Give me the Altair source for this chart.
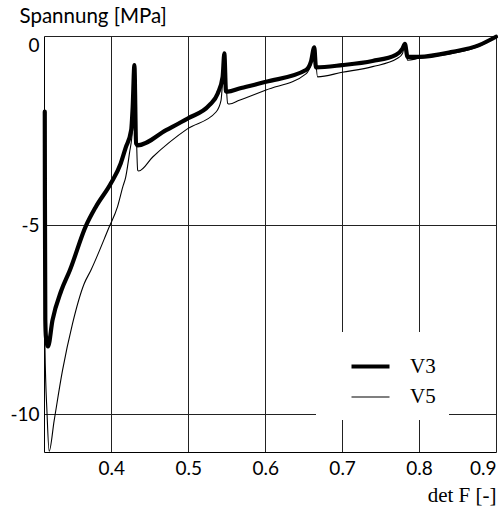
import altair as alt
import pandas as pd

# V3 (thick)
v3_x = [0.3135, 0.3137, 0.3142, 0.3150, 0.3177, 0.3235, 0.3350, 0.3460, 0.3670, 0.3798,
        0.3993, 0.4122, 0.4187, 0.4258, 0.4278, 0.4300, 0.4322, 0.4343, 0.4712, 0.4993,
        0.5274, 0.5383, 0.5447, 0.5469, 0.5491, 0.5512, 0.5664, 0.6011, 0.6530, 0.6595,
        0.6638, 0.6660, 0.7000, 0.7395, 0.7699, 0.7785, 0.7816, 0.7850, 0.8000, 0.8434,
        0.8781, 0.9000]
v3_y = [-2.00, -4.30, -7.50, -7.95, -8.21, -7.52, -6.73, -6.20, -5.02, -4.52,
        -3.90, -3.37, -2.95, -2.49, -1.87, -0.77, -2.84, -2.89, -2.49, -2.18,
        -1.83, -1.52, -1.08, -0.46, -1.47, -1.47, -1.39, -1.21, -0.90, -0.68,
        -0.30, -0.83, -0.77, -0.66, -0.50, -0.33, -0.21, -0.55, -0.55, -0.42,
        -0.24, -0.02]

# V5 (thin)
v5_x = [0.3135, 0.3137, 0.3165, 0.3192, 0.3257, 0.3365, 0.3495, 0.3647, 0.3733, 0.3972,
        0.4080, 0.4149, 0.4187, 0.4235, 0.4278, 0.4300, 0.4343, 0.4356, 0.4538, 0.4993,
        0.5361, 0.5426, 0.5447, 0.5469, 0.5512, 0.5534, 0.5664, 0.6011, 0.6530, 0.6595,
        0.6638, 0.6681, 0.7000, 0.7395, 0.7720, 0.7785, 0.7816, 0.7850, 0.8000, 0.8434,
        0.8781, 0.9000]
v5_y = [-2.00, -8.20, -10.00, -10.98, -10.17, -8.85, -7.61, -6.55, -6.20, -5.05,
        -4.52, -3.99, -3.73, -3.11, -2.40, -0.77, -3.55, -3.57, -3.20, -2.45,
        -2.01, -1.70, -1.17, -0.46, -1.78, -1.80, -1.70, -1.43, -1.00, -0.75,
        -0.30, -1.08, -0.96, -0.81, -0.59, -0.46, -0.21, -0.64, -0.59, -0.46,
        -0.27, -0.02]

series_names = ["V3", "V5"]
x_ticks = [0.4, 0.5, 0.6, 0.7, 0.8, 0.9]
y_ticks = [0, -5, -10]

rows = []
for name, xs, ys in [("V3", v3_x, v3_y), ("V5", v5_x, v5_y)]:
    for i, (a, b) in enumerate(zip(xs, ys)):
        rows.append({"series": name, "idx": i, "x": a, "y": b})
df = pd.DataFrame(rows)

sans = "Lato"
serif = "Liberation Serif"

chart = alt.Chart(df).mark_line(color="black", strokeJoin="round", strokeCap="round",
                                interpolate="monotone").encode(
    x=alt.X("x:Q", scale=alt.Scale(domain=[0.3125, 0.9], nice=False, zero=False),
            axis=alt.Axis(values=x_ticks, format=".1f", title="det F [-]",
                          titleFont=serif, titleFontSize=21, titleFontWeight="normal",
                          titleAlign="right", titleAnchor="end", titleBaseline="alphabetic",
                          titleX=452, titleY=49, labelFlush=True)),
    y=alt.Y("y:Q", scale=alt.Scale(domain=[-11, 0], nice=False, zero=False),
            axis=alt.Axis(values=y_ticks, title="Spannung [MPa]", titleAngle=0,
                          labelExpr="'' + datum.value",
                          titleAlign="left", titleBaseline="alphabetic",
                          titleX=-25, titleY=-14, titleFont=sans, titleFontSize=20.5,
                          titleFontWeight="normal", labelFlush=True)),
    strokeWidth=alt.StrokeWidth("series:N",
                                scale=alt.Scale(domain=series_names, range=[4.2, 1.1]),
                                legend=alt.Legend(title=None, orient="none", legendX=272, legendY=296,
                                                  fillColor="white", padding=13,
                                                  symbolType="stroke", symbolStrokeColor="black",
                                                  symbolSize=1444, symbolOffset=20,
                                                  labelFont=serif, labelFontSize=21, labelOffset=18,
                                                  rowPadding=0)),
    order="idx:Q",
).properties(
    width=452, height=416,
    autosize=alt.AutoSizeParams(type="none"),
    padding={"left": 44, "top": 36, "right": 3, "bottom": 57},
).configure_axis(
    grid=True, gridColor="#222222", gridWidth=1, ticks=False,
    domainColor="black", domainWidth=1,
    labelFont=sans, labelFontSize=19, labelColor="black", titleColor="black",
).configure_axisX(labelPadding=7).configure_axisY(labelPadding=5).configure_view(strokeWidth=0)

chart.save("out.html", embed_options={"renderer": "svg", "actions": False})
